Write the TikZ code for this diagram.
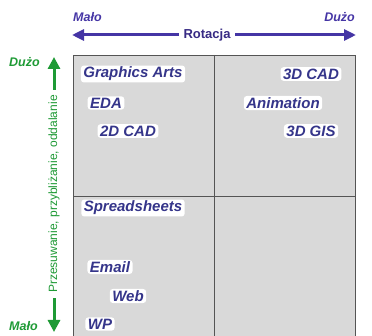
\documentclass[tikz,border=0pt]{standalone}
\usepackage{fontspec}
\setmainfont{Liberation Sans}
\usetikzlibrary{arrows.meta}
\definecolor{lbl}{HTML}{35358A}
\definecolor{arrb}{HTML}{4535A5}
\definecolor{grn}{HTML}{1E9A35}
\definecolor{cell}{HTML}{D9D9D9}
\definecolor{gridl}{HTML}{555555}
\begin{document}
\begin{tikzpicture}[x=1pt,y=-1pt,
  app/.style={fill=white,rounded corners=3pt,inner xsep=2.5pt,inner ysep=1.5pt,text=lbl,font=\fontsize{15}{15}\selectfont\bfseries\itshape},
  endlbl/.style={font=\fontsize{12.5}{12.5}\selectfont\bfseries\itshape,inner sep=0pt},
  barrow/.style={draw=arrb,line width=3pt,-{Triangle[length=12pt,width=11pt]}},
  garrow/.style={draw=grn,line width=3pt,-{Triangle[length=12pt,width=12pt]}}]
\useasboundingbox (0,0) rectangle (372,336);
% grid
\coordinate (tl) at (73,55);
\coordinate (br) at (355,338);
\fill[cell] (tl) rectangle (br);
\draw[gridl,line width=0.9pt] (tl) rectangle (br);
\draw[gridl,line width=0.9pt] (214,55) -- (214,338);
\draw[gridl,line width=0.9pt] (73,196) -- (355,196);
% top axis
\coordinate (rc) at (207,35);
\coordinate (rl) at (72,35);
\coordinate (rr) at (356,35);
\draw[barrow] (rc) -- (rl);
\draw[barrow] (rc) -- (rr);
\node[fill=white,inner xsep=5pt,inner ysep=2pt,text=arrb!80!black,font=\fontsize{13}{13}\selectfont\bfseries] (rot) at (rc) {Rotacja};
\node[endlbl,text=arrb,anchor=west] (malo1) at (73,17) {Mało};
\node[endlbl,text=arrb,anchor=east] (duzo1) at (355,17) {Dużo};
% left axis
\coordinate (pc) at (54,194);
\coordinate (pt) at (54,57);
\coordinate (pb) at (54,332);
\draw[garrow] (pc) -- (pt);
\draw[garrow] (pc) -- (pb);
\node[fill=white,inner xsep=5pt,inner ysep=1pt,rotate=90,text=grn,font=\fontsize{12}{12}\selectfont] (prz) at (pc) {Przesuwanie, przybliżanie, oddalanie};
\node[endlbl,text=grn,anchor=west] (duzo2) at (9,62) {Dużo};
\node[endlbl,text=grn,anchor=west] (malo2) at (9,326) {Mało};
% labels
\node[app] (ga) at (133,74) {Graphics Arts};
\node[app] (eda) at (106,103) {EDA};
\node[app] (cad2) at (128,131) {2D CAD};
\node[app] (cad3) at (311,74) {3D CAD};
\node[app] (anim) at (283,103) {Animation};
\node[app] (gis) at (311,131) {3D GIS};
\node[app] (spr) at (133,208) {Spreadsheets};
\node[app] (email) at (110,267) {Email};
\node[app] (web) at (128,296) {Web};
\node[app] (wp) at (100,324) {WP};
\end{tikzpicture}
\end{document}
